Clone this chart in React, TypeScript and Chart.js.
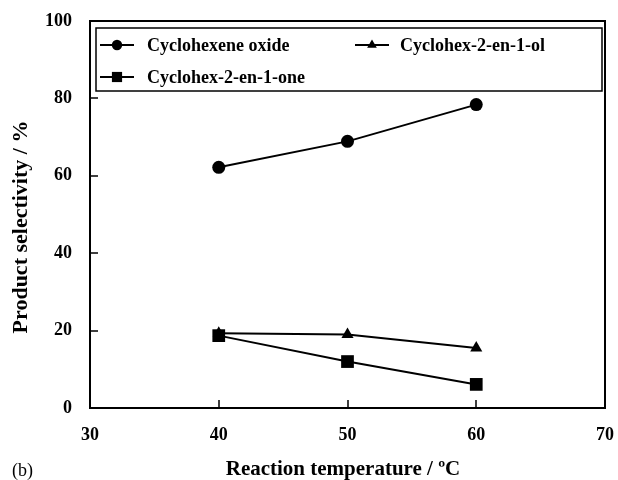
import { useEffect, useRef } from "react";
import { Chart, registerables } from "chart.js";

Chart.register(...registerables);

// Reaction temperature (°C) and product selectivity (%)
const temperatures = [40, 50, 60];
const cyclohexeneOxide = [62.2, 68.9, 78.4];
const cyclohexenol = [19.3, 19.0, 15.5];
const cyclohexenone = [18.7, 12.0, 6.1];

const xTicks = [30, 40, 50, 60, 70];
const yTicks = [0, 20, 40, 60, 80, 100];

const seriesLabels = ["Cyclohexene oxide", "Cyclohex-2-en-1-ol", "Cyclohex-2-en-1-one"];

const SERIF = '"Liberation Serif", "Times New Roman", serif';

const toPoints = (ys: number[]) => temperatures.map((x, i) => ({ x, y: ys[i] }));

// Small filled marker for the legend, same shapes as the point styles
function marker(ctx: CanvasRenderingContext2D, style: string, r: number, x: number, y: number) {
  ctx.beginPath();
  if (style === "circle") {
    ctx.arc(x, y, r, 0, Math.PI * 2);
  } else if (style === "triangle") {
    ctx.moveTo(x, y - r);
    ctx.lineTo(x + r * 0.866, y + r * 0.5);
    ctx.lineTo(x - r * 0.866, y + r * 0.5);
    ctx.closePath();
  } else {
    const s = r * Math.SQRT1_2;
    ctx.rect(x - s, y - s, 2 * s, 2 * s);
  }
  ctx.fill();
}

// Frame, inward tick marks, legend box and side captions
const decorations = {
  id: "decorations",
  afterDatasetsDraw(chart: any) {
    const { ctx, chartArea } = chart;
    const { left, right, top, bottom } = chartArea;
    const xs = chart.scales.x;
    const ys = chart.scales.y;
    ctx.save();
    ctx.strokeStyle = "#000";
    ctx.lineWidth = 2;
    ctx.strokeRect(left, top, right - left, bottom - top);

    const tickLen = 8;
    ctx.beginPath();
    for (const v of yTicks) {
      const py = Math.round(ys.getPixelForValue(v));
      ctx.moveTo(left, py);
      ctx.lineTo(left + tickLen, py);
    }
    for (const v of xTicks) {
      const px = Math.round(xs.getPixelForValue(v));
      ctx.moveTo(px, bottom);
      ctx.lineTo(px, bottom - tickLen);
    }
    ctx.lineWidth = 1.5;
    ctx.stroke();

    // legend
    const box = { x: 96, y: 28, w: 506, h: 63 };
    ctx.fillStyle = "#fff";
    ctx.fillRect(box.x, box.y, box.w, box.h);
    ctx.lineWidth = 1.5;
    ctx.strokeStyle = "#000";
    ctx.strokeRect(box.x, box.y, box.w, box.h);

    const slots = [
      { lx: 100, ty: 45, tx: 147 },
      { lx: 355, ty: 45, tx: 400 },
      { lx: 100, ty: 77, tx: 147 },
    ];
    chart.data.datasets.forEach((ds: any, i: number) => {
      const s = slots[i];
      ctx.strokeStyle = "#000";
      ctx.lineWidth = 2;
      ctx.beginPath();
      ctx.moveTo(s.lx, s.ty);
      ctx.lineTo(s.lx + 34, s.ty);
      ctx.stroke();
      ctx.fillStyle = "#000";
      marker(ctx, ds.pointStyle, ds.pointRadius * 0.8, s.lx + 17, s.ty);
      ctx.font = `bold 18px ${SERIF}`;
      ctx.textAlign = "left";
      ctx.textBaseline = "middle";
      ctx.fillText(ds.label, s.tx, s.ty + 1);
    });

    // axis titles and panel label
    ctx.fillStyle = "#000";
    ctx.textAlign = "center";
    ctx.textBaseline = "middle";
    ctx.font = `bold 21px ${SERIF}`;
    ctx.fillText("Reaction temperature / ºC", 343, 470);
    ctx.save();
    ctx.translate(21, 227);
    ctx.rotate(-Math.PI / 2);
    ctx.font = `bold 22px ${SERIF}`;
    ctx.fillText("Product selectivity / %", 0, 0);
    ctx.restore();
    ctx.font = `18px ${SERIF}`;
    ctx.textAlign = "left";
    ctx.fillText("(b)", 12, 471);
    ctx.restore();
  },
};

export default function App() {
  const canvasRef = useRef<HTMLCanvasElement | null>(null);

  useEffect(() => {
    if (!canvasRef.current) return;
    const common = {
      borderColor: "#000",
      backgroundColor: "#000",
      borderWidth: 2,
      pointBorderWidth: 0,
      pointBackgroundColor: "#000",
      showLine: true,
      tension: 0,
    };
    const tickFont = { family: SERIF, size: 18, weight: "bold" };
    const chart = new Chart(canvasRef.current, {
      type: "line",
      data: {
        datasets: [
          { ...common, label: seriesLabels[0], data: toPoints(cyclohexeneOxide), pointStyle: "circle", pointRadius: 6.5 },
          { ...common, label: seriesLabels[1], data: toPoints(cyclohexenol), pointStyle: "triangle", pointRadius: 7 },
          { ...common, label: seriesLabels[2], data: toPoints(cyclohexenone), pointStyle: "rect", pointRadius: 9 },
        ],
      },
      options: {
        animation: false,
        responsive: true,
        maintainAspectRatio: false,
        layout: { padding: { top: 21, right: 13, left: 0, bottom: 0 } },
        plugins: { legend: { display: false }, tooltip: { enabled: false } },
        scales: {
          x: {
            type: "linear",
            min: xTicks[0],
            max: xTicks[xTicks.length - 1],
            afterBuildTicks: (s: any) => {
              s.ticks = xTicks.map((value) => ({ value }));
            },
            afterFit: (s: any) => {
              s.height = 72;
              s.paddingLeft = 0;
              s.paddingRight = 0;
            },
            grid: { display: false, drawTicks: false },
            border: { display: false },
            ticks: { color: "#000", padding: 17, font: tickFont },
          },
          y: {
            type: "linear",
            min: yTicks[0],
            max: yTicks[yTicks.length - 1],
            afterBuildTicks: (s: any) => {
              s.ticks = yTicks.map((value) => ({ value }));
            },
            afterFit: (s: any) => {
              s.width = 90;
              s.paddingTop = 0;
              s.paddingBottom = 0;
            },
            grid: { display: false, drawTicks: false },
            border: { display: false },
            ticks: { color: "#000", padding: 18, font: tickFont },
          },
        },
      } as any,
      plugins: [decorations],
    });
    return () => chart.destroy();
  }, []);

  return (
    <div style={{ position: "fixed", left: 0, top: 0, width: 618, height: 480, background: "#fff" }}>
      <canvas ref={canvasRef} />
    </div>
  );
}
